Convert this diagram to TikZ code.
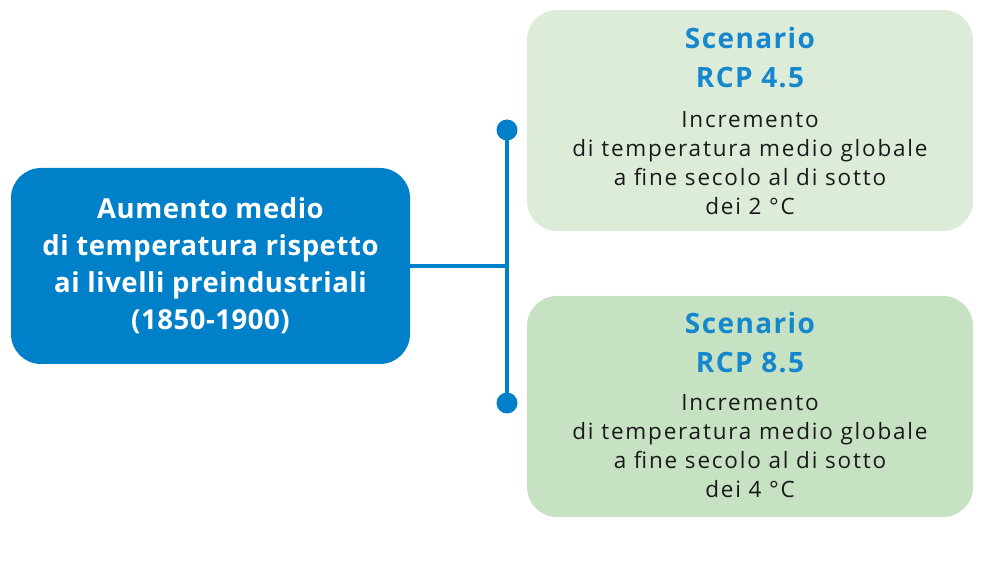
\documentclass[tikz,border=0pt]{standalone}
\usepackage{fontspec}
\setmainfont{Open Sans}
\newfontfamily\bodyfont[LetterSpace=8]{Open Sans}
\newfontfamily\titlefont[LetterSpace=5]{Open Sans}
\newfontfamily\mainfont[LetterSpace=2]{Open Sans}
\definecolor{mainblue}{HTML}{0080C9}
\definecolor{titleblue}{HTML}{1587CC}
\definecolor{lightgreen}{HTML}{DDECD9}
\definecolor{midgreen}{HTML}{C7E1C3}
\definecolor{bodyblack}{HTML}{1A1A1A}
\tikzset{
  mainbox/.style={draw=none, fill=mainblue, rounded corners=30pt, minimum width=399pt, minimum height=196pt, align=center, text=white, font=\mainfont\fontsize{27.5}{37}\selectfont\bfseries},
  scenbox/.style={draw=none, rounded corners=30pt, minimum width=446pt, minimum height=221pt},
  connector/.style={draw=mainblue, line width=4pt},
  dotmark/.style={circle, fill=mainblue, inner sep=0pt, minimum size=21pt},
  titletext/.style={text=titleblue, align=center, font=\titlefont\fontsize{28}{39}\selectfont\bfseries},
  bodytext/.style={text=bodyblack, align=center, font=\bodyfont\fontsize{22.5}{29}\selectfont}
}
\begin{document}
\begin{tikzpicture}[x=1pt,y=-1pt]
\useasboundingbox (0,0) rectangle (994,585);
\node[mainbox] (main) at (210.5,266) {Aumento medio\\di temperatura rispetto\\ai livelli preindustriali\\(1850-1900)};
\node[scenbox, fill=lightgreen] (s45) at (750,120.5) {};
\node[scenbox, fill=midgreen] (s85) at (750,406.5) {};
\node[titletext] (t45) at (750,57.5) {Scenario\\RCP 4.5};
\node[bodytext] (b45) at (750,163) {Incremento\\di temperatura medio globale\\a fine secolo al di sotto\\dei 2 °C};
\node[titletext] (t85) at (750,342.5) {Scenario\\RCP 8.5};
\node[bodytext] (b85) at (750,446) {Incremento\\di temperatura medio globale\\a fine secolo al di sotto\\dei 4 °C};
\coordinate (top) at (507,130);
\coordinate (bot) at (507,403);
\coordinate (mid) at (507,266);
\draw[connector] (top) -- (bot);
\draw[connector] (main.east) -- (mid);
\node[dotmark] (d1) at (top) {};
\node[dotmark] (d2) at (bot) {};
\end{tikzpicture}
\end{document}
